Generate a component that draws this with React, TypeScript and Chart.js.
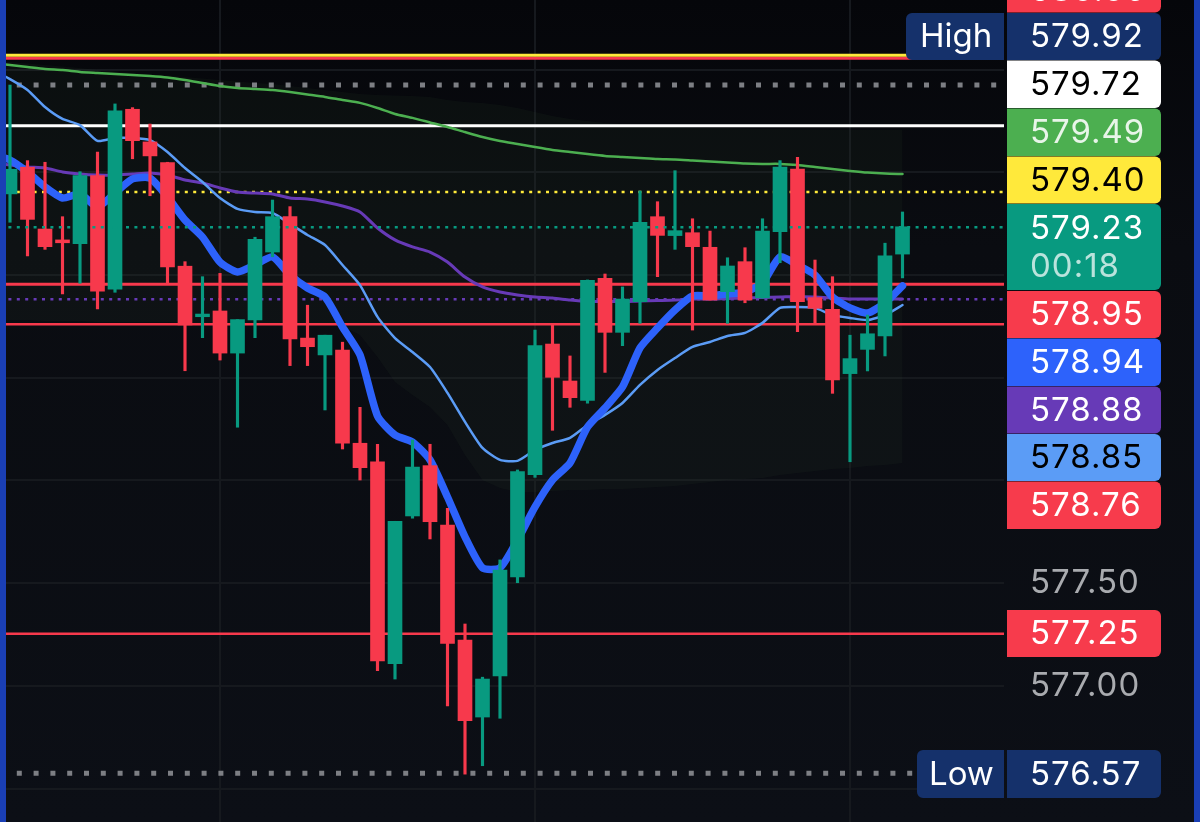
import React, { useEffect, useRef } from "react";
import { Chart, registerables } from "chart.js";

Chart.register(...registerables);

// OHLC, left to right
const opens = [579.395, 579.525, 579.224, 579.171, 579.153, 579.484, 578.931, 579.807, 579.648, 579.547, 579.043, 578.797, 578.825, 578.62, 578.781, 579.112, 579.284, 578.693, 578.611, 578.635, 578.181, 578.091, 577.108, 577.827, 578.072, 577.783, 577.223, 576.848, 577.048, 577.53, 578.028, 578.664, 578.484, 578.39, 578.984, 578.721, 578.87, 579.284, 579.192, 579.206, 579.135, 578.919, 579.065, 578.888, 579.211, 579.516, 578.89, 578.833, 578.52, 578.638, 578.703, 579.102];
const highs = [579.925, 579.557, 579.549, 579.284, 579.503, 579.598, 579.833, 579.815, 579.735, 579.549, 579.065, 578.992, 579.008, 578.783, 579.184, 579.365, 579.333, 578.853, 578.707, 578.673, 578.356, 578.176, 577.801, 578.197, 578.176, 577.864, 577.301, 577.042, 577.613, 578.051, 578.732, 578.757, 578.606, 578.976, 579.005, 578.942, 579.409, 579.357, 579.508, 579.274, 579.214, 579.084, 579.133, 579.274, 579.557, 579.573, 579.073, 578.992, 578.707, 578.805, 579.155, 579.307];
const lows = [579.257, 579.093, 579.125, 578.908, 578.96, 578.835, 578.916, 579.566, 579.386, 578.96, 578.534, 578.695, 578.586, 578.259, 578.695, 579.089, 578.559, 578.559, 578.343, 578.153, 578.002, 577.074, 577.033, 577.816, 577.715, 576.902, 576.57, 576.611, 576.842, 577.502, 578.015, 578.244, 578.356, 578.376, 578.526, 578.656, 578.765, 578.992, 579.125, 578.732, 578.878, 578.765, 578.865, 578.888, 579.06, 578.724, 578.762, 578.424, 578.091, 578.533, 578.606, 578.986];
const closes = [579.515, 579.271, 579.138, 579.157, 579.484, 578.922, 579.799, 579.654, 579.58, 579.039, 578.757, 578.81, 578.62, 578.783, 579.174, 579.284, 578.689, 578.651, 578.707, 578.181, 578.062, 577.121, 577.801, 578.065, 577.799, 577.207, 576.83, 577.033, 577.564, 578.043, 578.656, 578.502, 578.403, 578.974, 578.721, 578.883, 579.257, 579.193, 579.216, 579.138, 578.878, 579.044, 578.878, 579.214, 579.526, 578.87, 578.838, 578.489, 578.593, 578.714, 579.093, 579.235];

// moving averages, first value belongs to the candle just off the left edge
const emaBlue = [579.584, 579.56, 579.502, 579.429, 579.375, 579.395, 579.331, 579.399, 579.468, 579.472, 579.38, 579.268, 579.185, 579.063, 579.015, 579.049, 579.088, 579.0, 578.937, 578.893, 578.747, 578.611, 578.314, 578.221, 578.187, 578.1, 577.919, 577.725, 577.574, 577.574, 577.71, 577.871, 578.002, 578.085, 578.26, 578.353, 578.455, 578.645, 578.742, 578.83, 578.898, 578.898, 578.908, 578.917, 578.961, 579.088, 579.049, 579.0, 578.893, 578.84, 578.815, 578.864, 578.947];
const emaLightBlue = [579.998, 579.954, 579.901, 579.818, 579.76, 579.73, 579.653, 579.667, 579.667, 579.657, 579.599, 579.521, 579.453, 579.375, 579.322, 579.307, 579.302, 579.249, 579.195, 579.146, 579.049, 578.951, 578.796, 578.693, 578.625, 578.552, 578.426, 578.285, 578.158, 578.1, 578.095, 578.148, 578.182, 578.207, 578.27, 578.319, 578.377, 578.465, 578.538, 578.596, 578.65, 578.674, 578.703, 578.718, 578.767, 578.84, 578.844, 578.84, 578.805, 578.791, 578.781, 578.805, 578.854];
const emaPurple = [579.545, 579.536, 579.526, 579.521, 579.502, 579.492, 579.487, 579.487, 579.492, 579.497, 579.487, 579.463, 579.448, 579.424, 579.404, 579.399, 579.395, 579.375, 579.37, 579.356, 579.336, 579.307, 579.229, 579.171, 579.137, 579.112, 579.063, 578.99, 578.942, 578.917, 578.903, 578.893, 578.888, 578.878, 578.871, 578.871, 578.871, 578.874, 578.876, 578.878, 578.883, 578.883, 578.886, 578.888, 578.891, 578.893, 578.896, 578.893, 578.888, 578.883, 578.883, 578.883, 578.883];
const emaGreen = [580.032, 580.023, 580.013, 580.003, 579.998, 579.989, 579.984, 579.979, 579.974, 579.969, 579.962, 579.95, 579.935, 579.92, 579.911, 579.906, 579.901, 579.891, 579.879, 579.867, 579.852, 579.838, 579.813, 579.784, 579.765, 579.743, 579.721, 579.696, 579.672, 579.653, 579.638, 579.623, 579.609, 579.599, 579.589, 579.58, 579.575, 579.57, 579.565, 579.563, 579.558, 579.553, 579.548, 579.543, 579.541, 579.541, 579.536, 579.526, 579.516, 579.507, 579.499, 579.494, 579.492];

// the faint shaded band behind the candles
const bandUpper = [580.047, 580.037, 580.03, 580.023, 580.015, 580.008, 579.998, 579.991, 579.984, 579.976, 579.971, 579.964, 579.957, 579.95, 579.942, 579.935, 579.93, 579.92, 579.911, 579.901, 579.891, 579.881, 579.877, 579.874, 579.872, 579.867, 579.852, 579.842, 579.838, 579.828, 579.813, 579.794, 579.774, 579.76, 579.75, 579.74, 579.735, 579.73, 579.726, 579.721, 579.718, 579.716, 579.716, 579.713, 579.711, 579.711, 579.708, 579.708, 579.706, 579.706, 579.706, 579.706, 579.706];
const bandLower = [578.781, 578.781, 578.781, 578.776, 578.776, 578.776, 578.771, 578.771, 578.771, 578.771, 578.771, 578.766, 578.766, 578.766, 578.766, 578.766, 578.762, 578.762, 578.762, 578.762, 578.752, 578.708, 578.601, 578.479, 578.416, 578.357, 578.27, 578.124, 578.002, 577.963, 577.944, 577.944, 577.948, 577.953, 577.953, 577.958, 577.958, 577.963, 577.968, 577.973, 577.983, 577.992, 578.002, 578.007, 578.012, 578.027, 578.036, 578.046, 578.056, 578.061, 578.07, 578.075, 578.085];

// price levels
const topYellow = 580.07;
const topRed = 580.055;
const highLevel = 579.925;
const whiteLevel = 579.727;
const yellowLevel = 579.404;
const lastPrice = 579.232;
const redLevels = [578.955, 578.76, 577.254];
const purpleLevel = 578.882;
const lowLevel = 576.574;

const priceTicks = [576.5, 577, 577.5, 578, 578.5, 579, 579.5, 580];
const visibleTicks = [576.5, 577, 577.5];
const timeGrid = [12, 30, 48];

const tagTexts = ["580.06", "579.92", "579.72", "579.49", "579.40", "579.23", "578.95", "578.94", "578.88", "578.85", "578.76", "577.25", "576.57"];

// layout for the stacked price tags, [top, bottom, fill, text colour]
const tagBoxes: [number, number, string, string][] = [
  [-33, 12.5, "#f73b4c", "#fff"],
  [13, 60, "#15316b", "#fff"],
  [60.5, 108, "#ffffff", "#000"],
  [108.5, 156, "#4caf50", "#e8f5e9"],
  [156.5, 203.5, "#ffe93b", "#000"],
  [204, 290, "#089a80", "#fff"],
  [291, 338, "#f73b4c", "#fff"],
  [338.5, 386, "#2d62fb", "#fff"],
  [386.5, 433.5, "#673ab7", "#fff"],
  [434, 481, "#5b9cf6", "#000"],
  [481.5, 529, "#f73b4c", "#fff"],
  [610, 657, "#f73b4c", "#fff"],
  [750, 798, "#15316b", "#fff"],
];

const RED = "#f7394c";
const TEAL = "#089a80";
const GRID = "#16191e";
const FONT = "Inter, Roboto, sans-serif";
const xMin = -10 / 17.5;
const xMax = 994 / 17.5;

// series arrays start one candle before the first body
const pts = (values: number[]) => values.map((y, i) => ({ x: i - 1, y }));
const level = (y: number) => [{ x: xMin, y }, { x: xMax, y }];
const candleColors = closes.map((c, i) => (c >= opens[i] ? TEAL : RED));

const levelLine = (data: any[], color: string, width: number, order: number, dash: number[] = []) => ({
  type: "line",
  data,
  borderColor: color,
  borderWidth: width,
  borderDash: dash,
  pointRadius: 0,
  order,
});

const emaLine = (values: number[], color: string, width: number, order: number) => ({
  ...levelLine(pts(values), color, width, order),
  tension: 0.2,
  borderJoinStyle: "round",
  borderCapStyle: "round",
});

const frame = {
  id: "frame",
  beforeDraw(chart: any) {
    const { ctx, width, height } = chart;
    const g = ctx.createLinearGradient(0, 0, 0, height);
    g.addColorStop(0, "#05060a");
    g.addColorStop(0.3, "#0a0c11");
    g.addColorStop(1, "#0c0f16");
    ctx.fillStyle = g;
    ctx.fillRect(0, 0, width, height);
    ctx.letterSpacing = "1px";
  },
  afterDraw(chart: any) {
    const { ctx, width, height } = chart;
    ctx.save();
    // price tags go over the axis text
    tagBoxes.forEach(([top, bottom, fill, color], i) => {
      ctx.fillStyle = fill;
      ctx.beginPath();
      ctx.roundRect(1007, top, 154, bottom - top, [0, 6, 6, 0]);
      ctx.fill();
      ctx.fillStyle = color;
      ctx.font = `33px ${FONT}`;
      ctx.textBaseline = "middle";
      ctx.textAlign = "left";
      const mid = i === 5 ? top + 24 : (top + bottom) / 2;
      ctx.fillText(tagTexts[i], 1030, mid + 1);
    });
    ctx.fillStyle = "rgba(255,255,255,0.72)";
    ctx.fillText("00:18", 1030, 267);

    ctx.fillStyle = "#15316b";
    ctx.beginPath();
    ctx.roundRect(906, 13, 98, 47, [6, 0, 0, 6]);
    ctx.roundRect(917, 750, 87, 48, [6, 0, 0, 6]);
    ctx.fill();
    ctx.fillStyle = "#fff";
    ctx.letterSpacing = "0px";
    ctx.fillText("High", 920, 37);
    ctx.fillText("Low", 929, 775);

    // blue window edges
    ctx.fillStyle = "#1a3fb5";
    ctx.fillRect(0, 0, 6, height);
    ctx.fillRect(1194, 0, width - 1194, height);
    ctx.restore();
  },
};

export default function App() {
  const canvasRef = useRef<HTMLCanvasElement | null>(null);

  useEffect(() => {
    if (!canvasRef.current) return;
    document.body.style.margin = "0";

    const bar = { type: "bar", grouped: false, borderWidth: 0, backgroundColor: candleColors };

    const chart = new Chart(canvasRef.current, {
      type: "bar",
      plugins: [frame],
      data: {
        datasets: [
          levelLine(level(lastPrice), TEAL, 2.5, 0, [3, 5.4]),
          { ...bar, data: opens.map((o, x) => ({ x, y: [o, closes[x]] })), barThickness: 14, order: 1 },
          { ...bar, data: lows.map((l, x) => ({ x, y: [l, highs[x]] })), barThickness: 2.5, order: 2 },
          emaLine(emaBlue, "#2d62fb", 7.5, 3),
          emaLine(emaLightBlue, "#5b9cf6", 2.5, 4),
          emaLine(emaPurple, "#673ab7", 3, 5),
          emaLine(emaGreen, "#4caf50", 2.5, 6),
          levelLine(level(topYellow), "#ffe93b", 3, 7),
          levelLine(level(topRed), RED, 3, 8),
          levelLine(level(whiteLevel), "#ffffff", 3, 9),
          levelLine(level(yellowLevel), "#ffeb3b", 2.5, 10, [3, 5.4]),
          levelLine(level(purpleLevel), "#673ab7", 2.5, 11, [3, 5.4]),
          levelLine(level(redLevels[0]), RED, 3, 12),
          levelLine(level(redLevels[1]), RED, 2.5, 13),
          levelLine(level(redLevels[2]), RED, 2.5, 14),
          levelLine(level(highLevel), "#7d7f84", 5, 15, [5, 11.8]),
          levelLine(level(lowLevel), "#7d7f84", 5, 16, [5, 11.8]),
          { ...levelLine(pts(bandUpper), "transparent", 0, 17), fill: "+1", backgroundColor: "rgba(52,84,60,0.09)" },
          levelLine(pts(bandLower), "transparent", 0, 18),
        ] as any,
      },
      options: {
        responsive: false,
        animation: false,
        devicePixelRatio: 1,
        layout: { padding: 0 },
        plugins: { legend: { display: false }, tooltip: { enabled: false } },
        scales: {
          x: {
            type: "linear",
            min: xMin,
            max: xMax,
            offset: false,
            grid: { color: GRID, lineWidth: 2, offset: false, drawTicks: false },
            border: { display: false },
            ticks: { display: false },
            afterBuildTicks: (axis: any) => {
              axis.ticks = timeGrid.map((value) => ({ value }));
            },
            afterFit: (axis: any) => {
              axis.height = 0;
              axis.paddingLeft = 0;
              axis.paddingRight = 0;
            },
          },
          y: {
            position: "right",
            min: 576.337,
            max: 580.339,
            grid: { color: GRID, lineWidth: 2, drawTicks: false },
            border: { display: false },
            ticks: {
              color: "#a9abaf",
              padding: 26,
              font: { family: FONT, size: 33 },
              // the other ticks sit under the price tags
              callback: (v: any) => (visibleTicks.includes(Number(v)) ? Number(v).toFixed(2) : ""),
            },
            afterBuildTicks: (axis: any) => {
              axis.ticks = priceTicks.map((value) => ({ value }));
            },
            afterFit: (axis: any) => {
              axis.width = 196;
              axis.paddingTop = 0;
              axis.paddingBottom = 0;
            },
          },
        },
      },
    } as any);

    return () => chart.destroy();
  }, []);

  return <canvas ref={canvasRef} width={1200} height={822} style={{ display: "block" }} />;
}
